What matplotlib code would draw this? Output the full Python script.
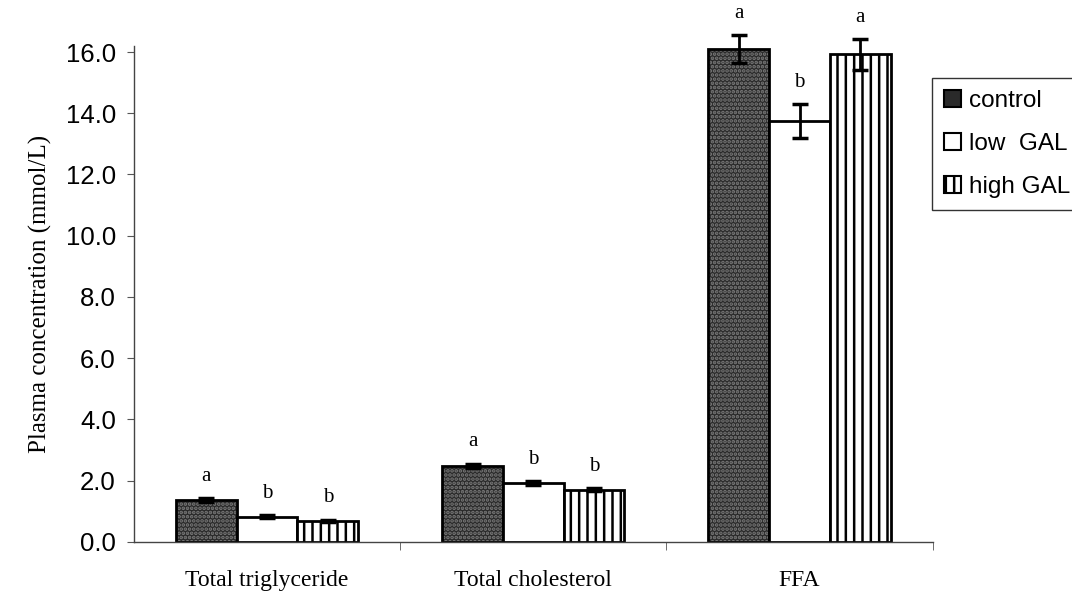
import numpy as np
import matplotlib.pyplot as plt
from matplotlib.patches import Patch

categories = ['Total triglyceride', 'Total cholesterol', 'FFA']
groups = ['control', 'low  GAL', 'high GAL']
control = [1.36, 2.48, 16.1]
low_gal = [0.82, 1.93, 13.75]
high_gal = [0.68, 1.70, 15.92]
control_err = [0.07, 0.08, 0.45]
low_err = [0.05, 0.06, 0.55]
high_err = [0.04, 0.05, 0.5]
control_sig = ['a', 'a', 'a']
low_sig = ['b', 'b', 'b']
high_sig = ['b', 'b', 'a']
yticks = [0, 2, 4, 6, 8, 10, 12, 14, 16]

plt.rcParams['hatch.linewidth'] = 1.8

fig = plt.figure(figsize=(10.72, 5.92), dpi=100)
ax = fig.add_axes([0.125, 0.0845, 0.745, 0.838])

x = np.arange(len(categories))
w = 0.228

# control: dark stippled fill
ax.bar(x - w, control, w, color='#2a2a2a', edgecolor='#7a7a7a', hatch='....', linewidth=0)
ax.bar(x - w, control, w, fill=False, edgecolor='black', linewidth=2)
# low GAL: plain white
ax.bar(x, low_gal, w, color='white', edgecolor='black', linewidth=2)
# high GAL: vertical stripes
ax.bar(x + w, high_gal, w, color='white', edgecolor='black', hatch='||', linewidth=2)

for off, vals, errs, sig in [(-w, control, control_err, control_sig),
                             (0, low_gal, low_err, low_sig),
                             (w, high_gal, high_err, high_sig)]:
    eb = ax.errorbar(x + off, vals, yerr=errs, fmt='none', ecolor='black',
                     elinewidth=2, capsize=6, capthick=2.5)
    for art in eb.lines[1] + eb.lines[2]:
        art.set_clip_on(False)
    for xi, v, e, s in zip(x + off, vals, errs, sig):
        ax.annotate(s, (xi, v + e), xytext=(0, 9), textcoords='offset points',
                    ha='center', va='bottom', fontsize=15, family='Liberation Serif',
                    annotation_clip=False)

ax.set_xlim(-0.5, 2.5)
ax.set_ylim(0, 16.2)
ax.set_yticks(yticks)
ax.set_yticklabels(['%.1f' % t for t in yticks], fontsize=18.5, family='Liberation Sans')
ax.set_xticks(x)
ax.set_xticklabels(categories, fontsize=17, family='Liberation Serif')
ax.set_xticks([0.5, 1.5, 2.5], minor=True)
ax.tick_params(axis='x', which='major', length=0, pad=20)
ax.tick_params(axis='x', which='minor', length=6, color='#555555')
ax.tick_params(axis='y', length=5, color='#555555', pad=8)
ax.set_ylabel('Plasma concentration (mmol/L)', fontsize=18, family='Liberation Serif', labelpad=10)
for s in ['top', 'right']:
    ax.spines[s].set_visible(False)
for s in ['left', 'bottom']:
    ax.spines[s].set_color('#444444')
    ax.spines[s].set_linewidth(1)

handles = [Patch(facecolor='#2a2a2a', edgecolor='black', linewidth=1.5),
           Patch(facecolor='white', edgecolor='black', linewidth=1.5),
           Patch(facecolor='white', edgecolor='black', hatch='||', linewidth=1.5)]
leg = fig.legend(handles, groups, loc='upper left', bbox_to_anchor=(0.869, 0.868),
                 prop={'family': 'Liberation Sans', 'size': 17.5}, frameon=True, fancybox=False,
                 edgecolor='black', handlelength=0.7, handleheight=0.7, handletextpad=0.35,
                 labelspacing=0.85, borderpad=0.5, borderaxespad=0)
leg.get_frame().set_linewidth(1)

fig.savefig('out.png', dpi=100)
